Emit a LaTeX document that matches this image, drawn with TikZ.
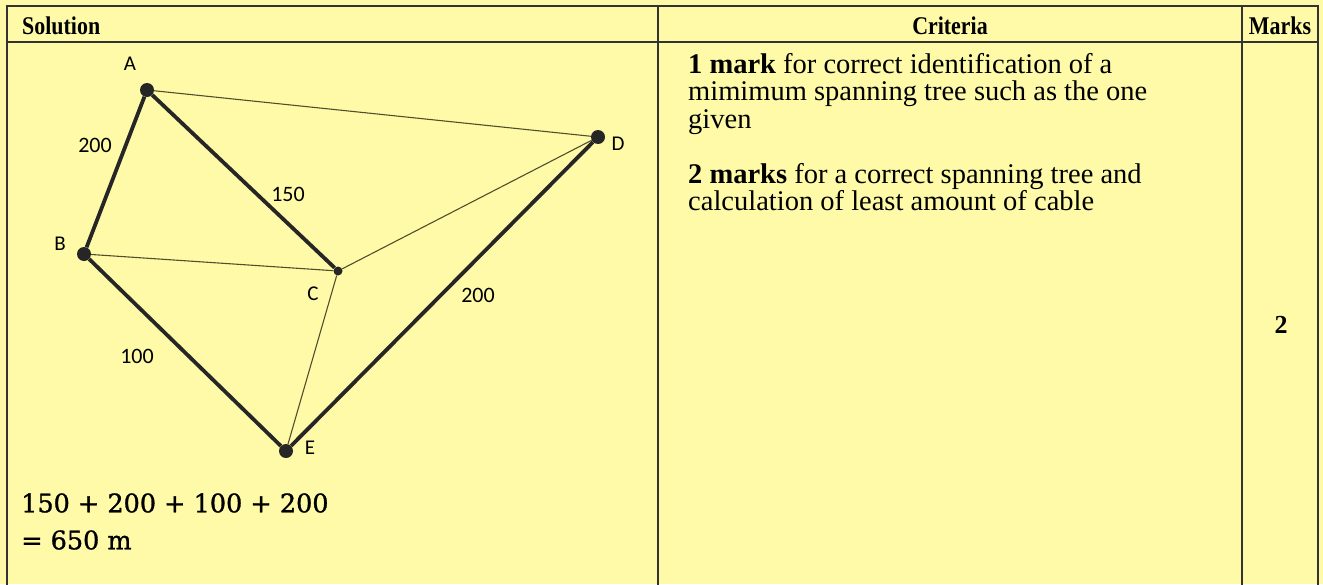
\documentclass[tikz,border=0pt]{standalone}
\usepackage{fontspec}
\setmainfont{Liberation Serif}
\newfontfamily\headfont[FakeStretch=0.86]{Liberation Serif}
\newfontfamily\graphfont{Carlito}
\newfontfamily\sumfont[FakeBold=1.2]{DejaVu Serif}
\definecolor{paper}{HTML}{FEFAA8}
\begin{document}
\begin{tikzpicture}[x=1pt,y=-1pt,
  rule/.style={line width=1.6pt, draw=black!80},
  treeedge/.style={line width=3.8pt, draw=black!85},
  otheredge/.style={line width=1.1pt, draw=black!55!olive},
  vertex/.style={circle, fill=black!85, inner sep=0pt, minimum size=14pt},
  vlabel/.style={font=\graphfont\fontsize{21}{22}\selectfont, inner sep=0pt},
  elabel/.style={font=\graphfont\fontsize{22}{24}\selectfont, inner sep=0pt},
  head/.style={font=\headfont\bfseries\fontsize{25.5}{28}\selectfont, inner sep=0pt},
  body/.style={font=\fontsize{28.5}{27.5}\selectfont, inner sep=0pt, align=left, anchor=north west},
  formula/.style={font=\sumfont\fontsize{25.5}{28}\selectfont, inner sep=0pt, anchor=west},
]
\fill[paper] (0,0) rectangle (1323,584);
\useasboundingbox (0,0) rectangle (1323,584);
% table
\draw[rule] (7,590) -- (7,6) -- (1318,6) -- (1318,590);
\draw[rule] (7,42) -- (1318,42);
\draw[rule] (658,6) -- (658,590);
\draw[rule] (1242,6) -- (1242,590);
% headers
\node[head, anchor=west] (hsol) at (22,26) {Solution};
\node[head] (hcrit) at (950,26) {Criteria};
\node[head] (hmarks) at (1280,26) {Marks};
% criteria
\node[body] (crit) at (688,53) {\textbf{1 mark} for correct identification of a\\
mimimum spanning tree such as the one\\
given\\[27.5pt]
\textbf{2 marks} for a correct spanning tree and\\
calculation of least amount of cable};
\node[font=\bfseries\fontsize{26}{28}\selectfont, inner sep=0pt] (mk) at (1281,325) {2};
% graph
\node[vertex] (A) at (147,90) {};
\node[vertex] (B) at (84,254) {};
\node[vertex, minimum size=9pt] (C) at (338,271) {};
\node[vertex] (D) at (598,137) {};
\node[vertex] (E) at (286,451) {};
\draw[otheredge] (A) -- (D);
\draw[otheredge] (B) -- (C);
\draw[otheredge] (C) -- (D);
\draw[otheredge] (C) -- (E);
\draw[treeedge] (A) -- (B);
\draw[treeedge] (A) -- (C);
\draw[treeedge] (B) -- (E);
\draw[treeedge] (E) -- (D);
\node[vlabel] (lA) at (130,64) {A};
\node[vlabel] (lB) at (60,244) {B};
\node[vlabel] (lC) at (313,294) {C};
\node[vlabel] (lD) at (618,144) {D};
\node[vlabel] (lE) at (310,448) {E};
\node[elabel] (wAB) at (95,145) {200};
\node[elabel] (wAC) at (288,194) {150};
\node[elabel] (wED) at (478,295) {200};
\node[elabel] (wBE) at (137,356) {100};
% sum
\node[formula] (sum) at (21,503) {150 + 200 + 100 + 200};
\node[formula] (res) at (21,540) {= 650 m};
\end{tikzpicture}
\end{document}
